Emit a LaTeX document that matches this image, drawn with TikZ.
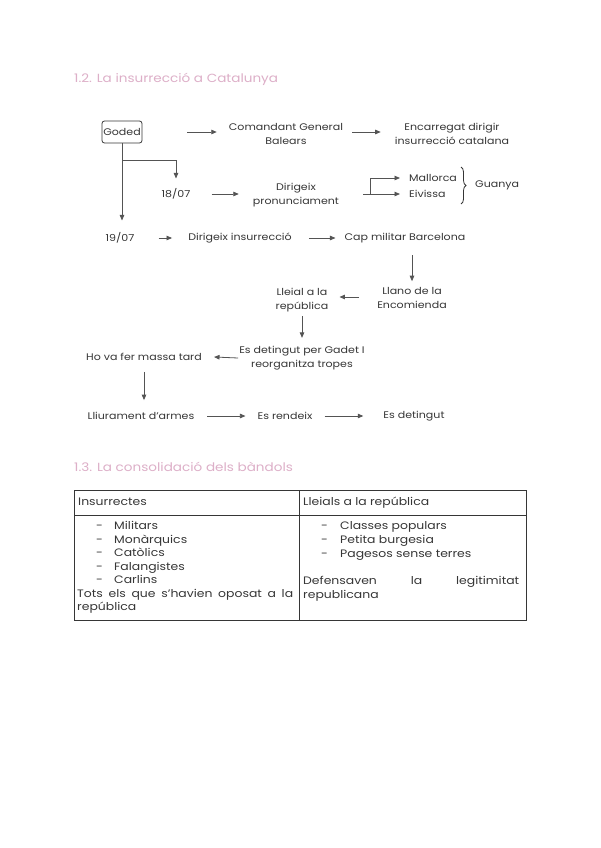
\documentclass[tikz,border=0pt]{standalone}
\usepackage{fontspec}
\setmainfont{Poppins}[FakeStretch=1.15]
\usetikzlibrary{arrows.meta,calc,decorations.pathreplacing}
\definecolor{ink}{HTML}{363636}
\definecolor{pinkt}{HTML}{DDAFC8}
\begin{document}
\begin{tikzpicture}[x=1pt,y=-1pt,
  lbl/.style={inner sep=0pt, text=ink, font=\fontsize{9.6}{14}\selectfont, align=center},
  ttl/.style={inner sep=0pt, anchor=west, text=pinkt, font=\fontsize{11.8}{14}\selectfont},
  cell/.style={inner sep=0pt, anchor=west, text=ink, text height=8pt, text depth=2.5pt, font=\fontsize{10.8}{12}\selectfont},
  arr/.style={draw=ink!85, line width=0.8pt, -{Triangle[length=5.5pt,width=4.5pt]}},
  tbl/.style={draw=ink, line width=0.9pt}]
\useasboundingbox[fill=white] (0,0) rectangle (600,848);

% ---- section 1.2
\node[ttl] (t1) at (74,79) {1.2. La insurrecció a Catalunya};

\node[lbl, draw=ink, line width=0.8pt, rounded corners=2.5pt, minimum width=40pt, minimum height=22pt] (godeh) at (122,132) {Goded};
\node[lbl] (coman) at (286,134) {Comandant General\\Balears};
\node[lbl] (encar) at (452,134) {Encarregat dirigir\\insurrecció catalana};

\node[lbl] (d18) at (176,194) {18/07};
\node[lbl] (dirig) at (296,195) {Dirigeix\\pronunciament};
\node[lbl, anchor=west] (mall) at (409,178) {Mallorca};
\node[lbl, anchor=west] (eiv) at (409,194) {Eivissa};
\node[lbl, anchor=west] (guan) at (475,185) {Guanya};

\node[lbl] (d19) at (120,238) {19/07};
\node[lbl] (dins) at (240,238) {Dirigeix insurrecció};
\node[lbl] (cap) at (405,238) {Cap militar Barcelona};

\node[lbl] (llano) at (412,298) {Llano de la\\Encomienda};
\node[lbl] (lleial) at (302,300) {Lleial a la\\república};
\node[lbl] (deten) at (302,358) {Es detingut per Gadet I\\reorganitza tropes};
\node[lbl] (massa) at (144,357) {Ho va fer massa tard};
\node[lbl] (lliur) at (141,416) {Lliurament d'armes};
\node[lbl] (rend) at (285,416) {Es rendeix};
\node[lbl] (det2) at (414,416) {Es detingut};

% arrows
\draw[arr] ([xshift=45pt]godeh.east) -- ([xshift=-12pt]godeh.east -| coman.west);
\draw[arr] ([xshift=9pt]coman.east |- godeh.east) -- ([xshift=-14pt]godeh.east -| encar.west);
\coordinate (br1) at (122,160);
\draw[arr] (godeh.south) -- ([yshift=12pt]godeh.south |- d19.north);
\draw[arr] (br1) -| ([yshift=10pt]d18.north);
\draw[arr] ([xshift=21pt]d18.east) -- ([xshift=-14pt]d18.east -| dirig.west);
\draw[arr] ([xshift=24pt]dirig.east |- eiv.west) -- ([xshift=-9pt]eiv.west);
\coordinate (split) at (370,194);
\draw[arr] (split) |- ([xshift=-9pt]mall.west);
\draw[ink, line width=0.8pt, decorate, decoration={brace, amplitude=5pt}] (461,167) -- (461,204);

\draw[arr] ([xshift=24pt]d19.east) -- ([xshift=-16pt]d19.east -| dins.west);
\draw[arr] ([xshift=17pt]dins.east) -- ([xshift=-9pt]dins.east -| cap.west);
\draw[arr] ([yshift=-12pt]cap.south -| llano.north) -- ([yshift=6pt]llano.north);
\draw[arr] ([xshift=-18pt]llano.west |- 0,297) -- ([xshift=11pt]lleial.east |- 0,297);
\draw[arr] ([yshift=-4pt]lleial.south) -- ([yshift=8pt]lleial.north |- deten.north);
\draw[arr] ([xshift=-1pt]deten.west) -- ([xshift=12pt]massa.east);
\draw[arr] ([yshift=-11pt]massa.south) -- ([yshift=12pt]massa.south |- lliur.north);
\draw[arr] ([xshift=13pt]lliur.east) -- ([xshift=-12pt]rend.west);
\draw[arr] ([xshift=12pt]rend.east) -- ([xshift=-20pt]det2.west);

% ---- section 1.3
\node[ttl] (t2) at (74,467) {1.3. La consolidació dels bàndols};

\draw[tbl] (74,490) rectangle (526,620);
\draw[tbl] (74,515) -- (526,515);
\draw[tbl] (299,490) -- (299,620);

\node[cell] (h1) at (78,503) {Insurrectes};
\node[cell] (h2) at (303,503) {Lleials a la república};

\foreach \t/\yy in {Militars/527, Monàrquics/541, Catòlics/554, Falangistes/568, Carlins/581}{
  \node[cell] at (96,\yy) {-};
  \node[cell] at (114,\yy) {\t};
}
\node[cell] (tots) at (77,595) {\makebox[216pt][s]{Tots els que s'havien oposat a la}};
\node[cell] (rep) at (77,608) {república};

\foreach \t/\yy in {Classes populars/527, Petita burgesia/541, Pagesos sense terres/555}{
  \node[cell] at (321,\yy) {-};
  \node[cell] at (340,\yy) {\t};
}
\node[cell] (def) at (303,582) {\makebox[216pt][s]{Defensaven la legitimitat}};
\node[cell] (repc) at (303,596) {republicana};
\end{tikzpicture}
\end{document}
